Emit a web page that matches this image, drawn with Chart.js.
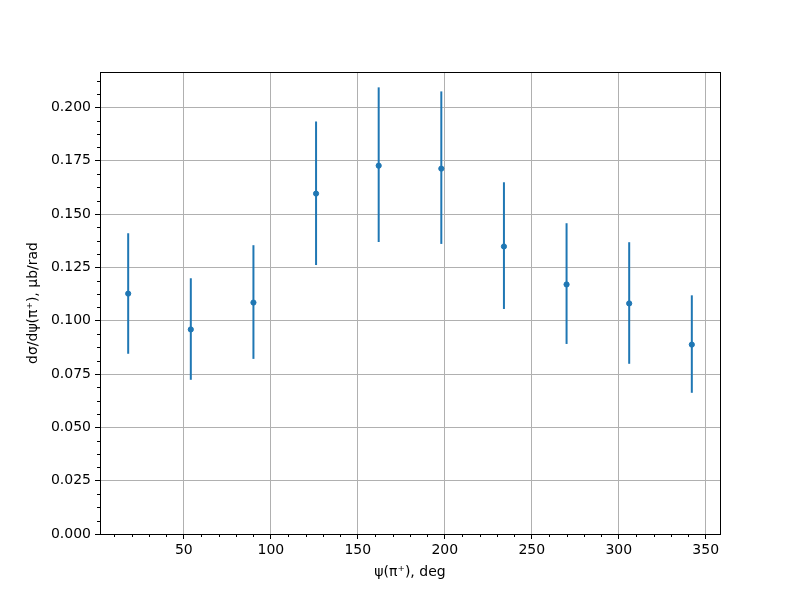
<!DOCTYPE html>
<html>
<head>
<meta charset="utf-8">
<script src="https://cdn.jsdelivr.net/npm/chart.js@4/dist/chart.umd.min.js"></script>
<style>
    html, body { margin: 0; padding: 0; background: #fff; }
    #wrap { width: 800px; height: 600px; }
</style>
</head>
<body>
<div id="wrap"><canvas id="chart" width="800" height="600"></canvas></div>
<script>
// psi angle bins (deg) and measured cross section (ub/rad)
const psiDeg = [18, 54, 90, 126, 162, 198, 234, 270, 306, 342];
const xsec = [0.1127, 0.0959, 0.1085, 0.1596, 0.1727, 0.1713, 0.1348, 0.1170, 0.1081, 0.0888];
const errLow = [0.0282, 0.0236, 0.0264, 0.0335, 0.0358, 0.0353, 0.0293, 0.0279, 0.0283, 0.0226];
const errHigh = [0.0283, 0.0240, 0.0269, 0.0338, 0.0367, 0.0362, 0.0301, 0.0287, 0.0287, 0.0231];

const xTicks = [50, 100, 150, 200, 250, 300, 350];
const yTicks = [0, 0.025, 0.05, 0.075, 0.1, 0.125, 0.15, 0.175, 0.2];
const xMinorStep = 10;
const yMinorStep = 0.00625;

const blue = '#1f77b4';
const font = { family: 'DejaVu Sans', size: 14 };

// error bars, minor ticks and the full frame like matplotlib
const errorBarPlugin = {
    id: 'errorBars',
    beforeDatasetsDraw(chart) {
        const { ctx, scales: { x, y } } = chart;
        ctx.save();
        ctx.strokeStyle = blue;
        ctx.lineWidth = 2;
        psiDeg.forEach((p, i) => {
            const px = x.getPixelForValue(p);
            ctx.beginPath();
            ctx.moveTo(px, y.getPixelForValue(xsec[i] + errHigh[i]));
            ctx.lineTo(px, y.getPixelForValue(xsec[i] - errLow[i]));
            ctx.stroke();
        });
        ctx.restore();
    },
    afterDraw(chart) {
        const { ctx, chartArea: a, scales: { x, y } } = chart;
        ctx.save();
        ctx.strokeStyle = '#000';
        ctx.lineWidth = 1;
        ctx.beginPath();
        for (let v = Math.ceil(x.min / xMinorStep) * xMinorStep; v <= x.max; v += xMinorStep) {
            if (v % 50 === 0) continue;
            const px = Math.round(x.getPixelForValue(v)) + 0.5;
            ctx.moveTo(px, a.bottom);
            ctx.lineTo(px, a.bottom + 3);
        }
        for (let k = 0; k * yMinorStep <= y.max; k++) {
            if (k % 4 === 0) continue;
            const py = Math.round(y.getPixelForValue(k * yMinorStep)) + 0.5;
            ctx.moveTo(a.left, py);
            ctx.lineTo(a.left - 3, py);
        }
        ctx.stroke();
        ctx.strokeRect(Math.round(a.left) + 0.5, Math.round(a.top) + 0.5,
            Math.round(a.right - a.left), Math.round(a.bottom - a.top));
        ctx.restore();
    }
};

new Chart(document.getElementById('chart'), {
    type: 'scatter',
    data: {
        datasets: [{
            data: psiDeg.map((p, i) => ({ x: p, y: xsec[i] })),
            backgroundColor: blue,
            borderColor: blue,
            pointRadius: 2.6,
            pointHoverRadius: 2.6
        }]
    },
    options: {
        responsive: false,
        animation: false,
        layout: { padding: { top: 72, right: 80, left: 0, bottom: 0 } },
        plugins: {
            legend: { display: false },
            tooltip: { enabled: false }
        },
        scales: {
            x: {
                type: 'linear',
                min: 1.8,
                max: 358.2,
                afterBuildTicks: (scale) => { scale.ticks = xTicks.map(v => ({ value: v })); },
                afterFit: (scale) => { scale.height = 66; },
                grid: { color: '#b0b0b0', lineWidth: 1, tickLength: 5, tickColor: '#000' },
                border: { display: false },
                ticks: { font, color: '#000', padding: 3, maxRotation: 0 },
                title: { display: true, text: 'ψ(π⁺), deg', font, color: '#000', padding: { top: 0, bottom: 19 } }
            },
            y: {
                type: 'linear',
                min: 0,
                max: 0.2166,
                afterBuildTicks: (scale) => { scale.ticks = yTicks.map(v => ({ value: v })); },
                afterFit: (scale) => { scale.width = 100; },
                grid: { color: '#b0b0b0', lineWidth: 1, tickLength: 5, tickColor: '#000' },
                border: { display: false },
                ticks: { font, color: '#000', padding: 4, callback: (v) => v.toFixed(3) },
                title: { display: true, text: 'dσ/dψ(π⁺), μb/rad', font, color: '#000', padding: { top: 25, bottom: 0 } }
            }
        }
    },
    plugins: [errorBarPlugin]
});
</script>
</body>
</html>
